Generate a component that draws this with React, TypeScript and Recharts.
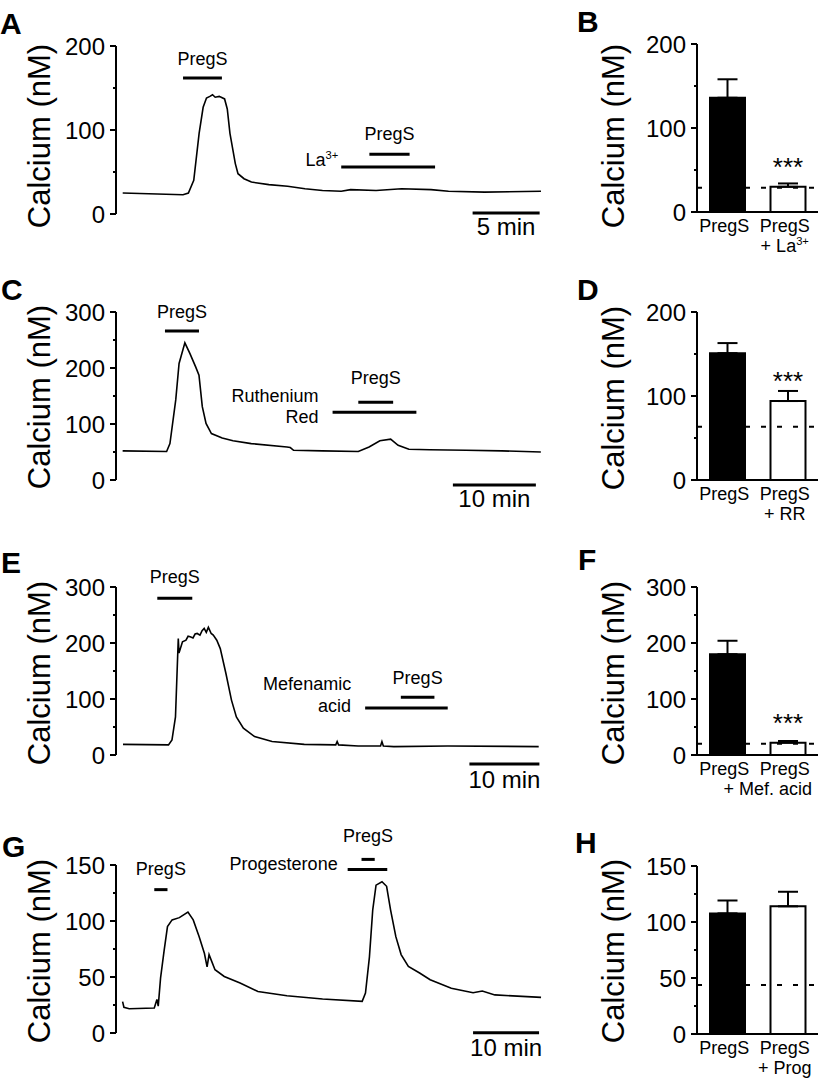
import React from 'react';
import {
  LineChart,
  Line,
  XAxis,
  YAxis,
  ReferenceLine,
  BarChart,
  Bar,
  Cell,
  ErrorBar,
  LabelList,
} from 'recharts';

const FONT = '"Liberation Sans", Arial, Helvetica, sans-serif';

// ---- calcium traces: time (min) and calcium (nM)
const timeA = [0, 4.5, 4.9, 5.3, 5.7, 6.0, 6.25, 6.5, 6.7, 6.9, 7.2, 7.6, 7.8, 8.0, 8.4, 8.6, 9.05, 9.6, 10.9, 12.3, 13.6, 14.9, 16.3, 17.0, 18.9, 20.8, 23.0, 24.3, 27.0, 31.2];
const calciumA = [25, 23, 25, 40, 96, 127, 138, 140, 142, 139, 140, 137, 125, 96, 60, 48, 42, 38, 35, 33, 30, 28, 27, 29, 28, 30, 29, 27, 26, 27];

const timeC = [0, 5.3, 5.7, 6.4, 6.8, 7.5, 8.1, 8.8, 9.2, 9.6, 10.05, 10.7, 12.0, 13.3, 15.5, 19.8, 20.2, 20.6, 24.1, 28.4, 29.7, 31.0, 32.3, 33.2, 34.5, 37.0, 41.4, 45.7, 50.4];
const calciumC = [52, 51, 65, 143, 208, 245, 226, 202, 187, 131, 101, 83, 75, 70, 65, 59, 58, 53, 52, 51, 59, 70, 73, 62, 55, 54, 53, 52, 50];

const timeE = [0, 6.5, 7.0, 7.5, 7.9, 8.0, 8.5, 9.0, 9.3, 9.6, 10.0, 10.3, 10.6, 11.0, 11.3, 11.6, 11.9, 12.2, 12.6, 12.9, 13.4, 13.9, 14.7, 15.5, 16.2, 17.2, 18.8, 21.3, 25.9, 30.4, 30.6, 30.8, 33.6, 36.8, 37.0, 37.2, 38.7, 46.4, 59.4];
const calciumE = [19, 18, 27, 68, 208, 182, 202, 205, 212, 211, 209, 216, 217, 214, 222, 226, 219, 228, 217, 214, 205, 190, 146, 98, 68, 48, 33, 24, 19, 18, 24, 18, 16, 16, 24, 16, 15, 16, 15];

const timeG = [0, 0.2, 1.0, 4.8, 5.2, 5.4, 5.75, 6.3, 6.8, 7.5, 8.6, 9.9, 10.7, 11.6, 12.4, 12.8, 13.1, 14.0, 15.4, 17.8, 20.5, 24.9, 30.3, 36.3, 36.8, 37.4, 37.9, 38.4, 39.3, 40.0, 40.6, 41.4, 42.2, 43.3, 45.0, 46.6, 49.8, 53.1, 54.5, 56.4, 63.4];
const calciumG = [28, 23, 21.7, 22.3, 30, 24, 49, 74, 95, 101, 103, 108, 101, 86, 71, 59, 70, 56.5, 50.5, 44.6, 37, 33.3, 30.4, 28.2, 35.7, 68, 110, 132, 135, 131, 110, 86, 70, 59.5, 53.6, 47.6, 40, 36, 37.5, 34, 31.8];

// ---- drug application bars (start/end in min, drawn at a calcium level)
const drugsA = [
  { name: 'PregS', start: 4.5, end: 7.4, level: 162 },
  { name: 'La^3+', start: 16.3, end: 23.3, level: 56 },
  { name: 'PregS', start: 18.4, end: 21.4, level: 71 },
];
const drugsC = [
  { name: 'PregS', start: 5.1, end: 9.2, level: 266 },
  { name: 'Ruthenium|Red', start: 25.3, end: 35.4, level: 121 },
  { name: 'PregS', start: 28.4, end: 32.6, level: 139 },
];
const drugsE = [
  { name: 'PregS', start: 4.9, end: 9.9, level: 280 },
  { name: 'Mefenamic|acid', start: 34.6, end: 46.4, level: 84 },
  { name: 'PregS', start: 39.7, end: 44.5, level: 103 },
];
const drugsG = [
  { name: 'PregS', start: 4.8, end: 6.8, level: 128 },
  { name: 'Progesterone', start: 34.1, end: 40.1, level: 146 },
  { name: 'PregS', start: 36.2, end: 38.2, level: 155 },
];

const scaleA = { name: '5 min', start: 26.1, end: 31.1, level: 1.2 };
const scaleC = { name: '10 min', start: 39.8, end: 49.8, level: -8.9 };
const scaleE = { name: '10 min', start: 49.5, end: 59.5, level: -16 };
const scaleG = { name: '10 min', start: 53.1, end: 63.1, level: 0.3 };

// ---- summary bars: mean, SEM and baseline (nM)
const groupsB = ['PregS', 'PregS|+ La^3+'];
const meanB = [136, 30];
const semB = [22, 4];
const sigB = ['', '***'];
const baseB = 29;

const groupsD = ['PregS', 'PregS|+ RR'];
const meanD = [151, 94];
const semD = [12, 12];
const sigD = ['', '***'];
const baseD = 63.5;

const groupsF = ['PregS', 'PregS|+ Mef. acid'];
const meanF = [180, 22];
const semF = [24, 3];
const sigF = ['', '***'];
const baseF = 20;

const groupsH = ['PregS', 'PregS|+ Prog'];
const meanH = [107.7, 114];
const semH = [11.5, 13];
const sigH = ['', ''];
const baseH = 43.7;

const ticks200 = [0, 50, 100, 150, 200];
const ticks300 = [0, 50, 100, 150, 200, 250, 300];
const ticks150 = [0, 25, 50, 75, 100, 125, 150];

// text with an optional superscript after '^'
const rich = (s: string, fs: number) => {
  const [base, sup] = s.split('^');
  return (
    <>
      {base}
      {sup && (
        <tspan fontSize={fs * 0.62} dy={-fs * 0.36}>
          {sup}
        </tspan>
      )}
    </>
  );
};

const yTick = (axisX: number, step: number) => (p: any) => {
  const v = p.payload.value;
  const major = v % step === 0;
  return (
    <g>
      <line x1={axisX - (major ? 6 : 3)} x2={axisX} y1={p.y} y2={p.y} stroke="#000" strokeWidth={2} />
      {major && (
        <text x={axisX - 11} y={p.y + 8.5} textAnchor="end" fontSize={24} fontFamily={FONT} fill="#000">
          {v}
        </text>
      )}
    </g>
  );
};

type Place = { anchor: 'middle' | 'end'; dx: number; dy: number[] };

const annot = (lines: string[], place: Place, fs: number) => (p: any) => {
  const vb = p.viewBox ?? p;
  const x0 = place.anchor === 'middle' ? vb.x + vb.width / 2 : vb.x;
  return (
    <g>
      {lines.map((ln, i) => (
        <text
          key={i}
          x={x0 + place.dx}
          y={vb.y + place.dy[i]}
          textAnchor={place.anchor}
          fontSize={fs}
          fontFamily={FONT}
          fill="#000"
        >
          {rich(ln, fs)}
        </text>
      ))}
    </g>
  );
};

type Drug = { name: string; start: number; end: number; level: number };

function TracePanel(props: {
  top: number;
  time: number[];
  calcium: number[];
  yMax: number;
  ticks: number[];
  step: number;
  xDomain: [number, number];
  drugs: Drug[];
  places: Place[];
  scale: Drug;
  scaleDy: number;
}) {
  const { top, time, calcium, yMax, ticks, step, xDomain, drugs, places, scale, scaleDy } = props;
  const data = time.map((t, i) => ({ t, v: calcium[i] }));
  return (
    <div style={{ position: 'absolute', left: 0, top: top - 40, width: 560, height: 258 }}>
      <LineChart width={560} height={258} data={data} margin={{ top: 40, right: 15, bottom: 50, left: 0 }}>
        <XAxis dataKey="t" type="number" domain={xDomain} allowDataOverflow hide height={0} />
        <YAxis
          domain={[0, yMax]}
          ticks={ticks}
          interval={0}
          width={116}
          allowDataOverflow
          tickLine={false}
          axisLine={{ stroke: '#000', strokeWidth: 2 }}
          tick={yTick(116, step)}
        />
        <Line dataKey="v" type="linear" stroke="#000" strokeWidth={1.6} dot={false} isAnimationActive={false} />
        {drugs.map((d, i) => (
          <ReferenceLine
            key={i}
            segment={[
              { x: d.start, y: d.level },
              { x: d.end, y: d.level },
            ]}
            stroke="#000"
            strokeWidth={3}
            ifOverflow="visible"
            label={annot(d.name.split('|'), places[i], 18)}
          />
        ))}
        <ReferenceLine
          segment={[
            { x: scale.start, y: scale.level },
            { x: scale.end, y: scale.level },
          ]}
          stroke="#000"
          strokeWidth={3}
          ifOverflow="visible"
          label={annot([scale.name], { anchor: 'middle', dx: 0, dy: [scaleDy] }, 24)}
        />
      </LineChart>
    </div>
  );
}

// category labels; a long line is kept inside the right edge of the panel
const catTick = (axisY: number, rightEdge: number) => (p: any) => {
  const lines = String(p.payload.value).split('|');
  return (
    <g>
      {lines.map((ln, i) => {
        const est = ln.replace('^', '').length * 8.6;
        const cx = p.x - 3;
        const tooWide = cx + est / 2 > rightEdge + 4;
        return (
          <text
            key={i}
            x={tooWide ? rightEdge : cx}
            y={axisY + 19.5 + i * 20}
            textAnchor={tooWide ? 'end' : 'middle'}
            fontSize={18}
            fontFamily={FONT}
            fill="#000"
          >
            {rich(ln, 18)}
          </text>
        );
      })}
    </g>
  );
};

const sigLabel = (p: any) =>
  p.value ? (
    <text x={p.x + p.width / 2} y={p.y - 11} textAnchor="middle" fontSize={26} fontFamily={FONT} fill="#000">
      {p.value}
    </text>
  ) : null;

function BarPanel(props: {
  top: number;
  groups: string[];
  mean: number[];
  sem: number[];
  sig: string[];
  base: number;
  yMax: number;
  ticks: number[];
  step: number;
}) {
  const { top, groups, mean, sem, sig, base, yMax, ticks, step } = props;
  const data = groups.map((g, i) => ({ name: g, mean: mean[i], err: [0, sem[i]], sig: sig[i] }));
  return (
    <div style={{ position: 'absolute', left: 560, top: top - 40, width: 259, height: 256 }}>
      <BarChart width={259} height={256} data={data} margin={{ top: 40, right: 1, bottom: 0, left: 0 }}>
        <XAxis
          dataKey="name"
          type="category"
          height={48}
          interval={0}
          tickLine={false}
          axisLine={{ stroke: '#000', strokeWidth: 2 }}
          tick={catTick(208, 252)}
        />
        <YAxis
          domain={[0, yMax]}
          ticks={ticks}
          interval={0}
          width={137}
          allowDataOverflow
          tickLine={false}
          axisLine={{ stroke: '#000', strokeWidth: 2 }}
          tick={yTick(137, step)}
        />
        <Bar dataKey="mean" barSize={35} stroke="#000" strokeWidth={2} isAnimationActive={false}>
          {data.map((d, i) => (
            <Cell key={d.name + i} fill={i === 0 ? '#000' : '#fff'} />
          ))}
          <ErrorBar dataKey="err" width={10} stroke="#000" strokeWidth={2} direction="y" isAnimationActive={false} />
          <LabelList dataKey="sig" content={sigLabel} />
        </Bar>
        <ReferenceLine y={base} stroke="#000" strokeWidth={2} strokeDasharray="5 11" />
      </BarChart>
    </div>
  );
}

const letters = [
  { t: 'A', x: 0, y: 34 },
  { t: 'B', x: 577, y: 32 },
  { t: 'C', x: 1, y: 300 },
  { t: 'D', x: 577, y: 300 },
  { t: 'E', x: 1, y: 573 },
  { t: 'F', x: 578, y: 570 },
  { t: 'G', x: 2, y: 857 },
  { t: 'H', x: 575, y: 853 },
];
const titles = [
  { x: 50, y: 136 },
  { x: 624, y: 136 },
  { x: 50, y: 397 },
  { x: 624, y: 398 },
  { x: 50, y: 673 },
  { x: 624, y: 673 },
  { x: 50, y: 951 },
  { x: 624, y: 951 },
];

export default function App() {
  return (
    <div style={{ position: 'absolute', left: 0, top: 0, width: 819, height: 1078, background: '#fff', fontFamily: FONT }}>
      <TracePanel
        top={46}
        time={timeA}
        calcium={calciumA}
        yMax={200}
        ticks={ticks200}
        step={100}
        xDomain={[-0.5, 31.5]}
        drugs={drugsA}
        places={[
          { anchor: 'middle', dx: 0, dy: [-13] },
          { anchor: 'end', dx: -3, dy: [-1] },
          { anchor: 'middle', dx: 0, dy: [-14.5] },
        ]}
        scale={scaleA}
        scaleDy={22}
      />
      <BarPanel top={44} groups={groupsB} mean={meanB} sem={semB} sig={sigB} base={baseB} yMax={200} ticks={ticks200} step={100} />

      <TracePanel
        top={312}
        time={timeC}
        calcium={calciumC}
        yMax={300}
        ticks={ticks300}
        step={100}
        xDomain={[-0.8, 50.9]}
        drugs={drugsC}
        places={[
          { anchor: 'middle', dx: 0, dy: [-13] },
          { anchor: 'end', dx: -14, dy: [-10.6, 10.7] },
          { anchor: 'middle', dx: 0, dy: [-18] },
        ]}
        scale={scaleC}
        scaleDy={21.7}
      />
      <BarPanel top={312} groups={groupsD} mean={meanD} sem={semD} sig={sigD} base={baseD} yMax={200} ticks={ticks200} step={100} />

      <TracePanel
        top={587}
        time={timeE}
        calcium={calciumE}
        yMax={300}
        ticks={ticks300}
        step={100}
        xDomain={[-1, 60.3]}
        drugs={drugsE}
        places={[
          { anchor: 'middle', dx: 0, dy: [-15] },
          { anchor: 'end', dx: -14, dy: [-17.7, 4] },
          { anchor: 'middle', dx: 0, dy: [-13] },
        ]}
        scale={scaleE}
        scaleDy={24}
      />
      <BarPanel top={587} groups={groupsF} mean={meanF} sem={semF} sig={sigF} base={baseF} yMax={300} ticks={ticks300} step={100} />

      <TracePanel
        top={865}
        time={timeG}
        calcium={calciumG}
        yMax={150}
        ticks={ticks150}
        step={50}
        xDomain={[-1, 64]}
        drugs={drugsG}
        places={[
          { anchor: 'middle', dx: 0, dy: [-14.5] },
          { anchor: 'end', dx: -10, dy: [1] },
          { anchor: 'middle', dx: 0, dy: [-17] },
        ]}
        scale={scaleG}
        scaleDy={23}
      />
      <BarPanel top={866} groups={groupsH} mean={meanH} sem={semH} sig={sigH} base={baseH} yMax={150} ticks={ticks150} step={50} />

      <svg width={819} height={1078} style={{ position: 'absolute', left: 0, top: 0, pointerEvents: 'none' }}>
        {letters.map((l) => (
          <text key={l.t} x={l.x} y={l.y} fontSize={30} fontWeight="bold" fontFamily={FONT} fill="#000">
            {l.t}
          </text>
        ))}
        {titles.map((t, i) => (
          <text
            key={i}
            transform={`translate(${t.x},${t.y}) rotate(-90)`}
            textAnchor="middle"
            fontSize={31}
            fontFamily={FONT}
            fill="#000"
          >
            Calcium (nM)
          </text>
        ))}
      </svg>
    </div>
  );
}
